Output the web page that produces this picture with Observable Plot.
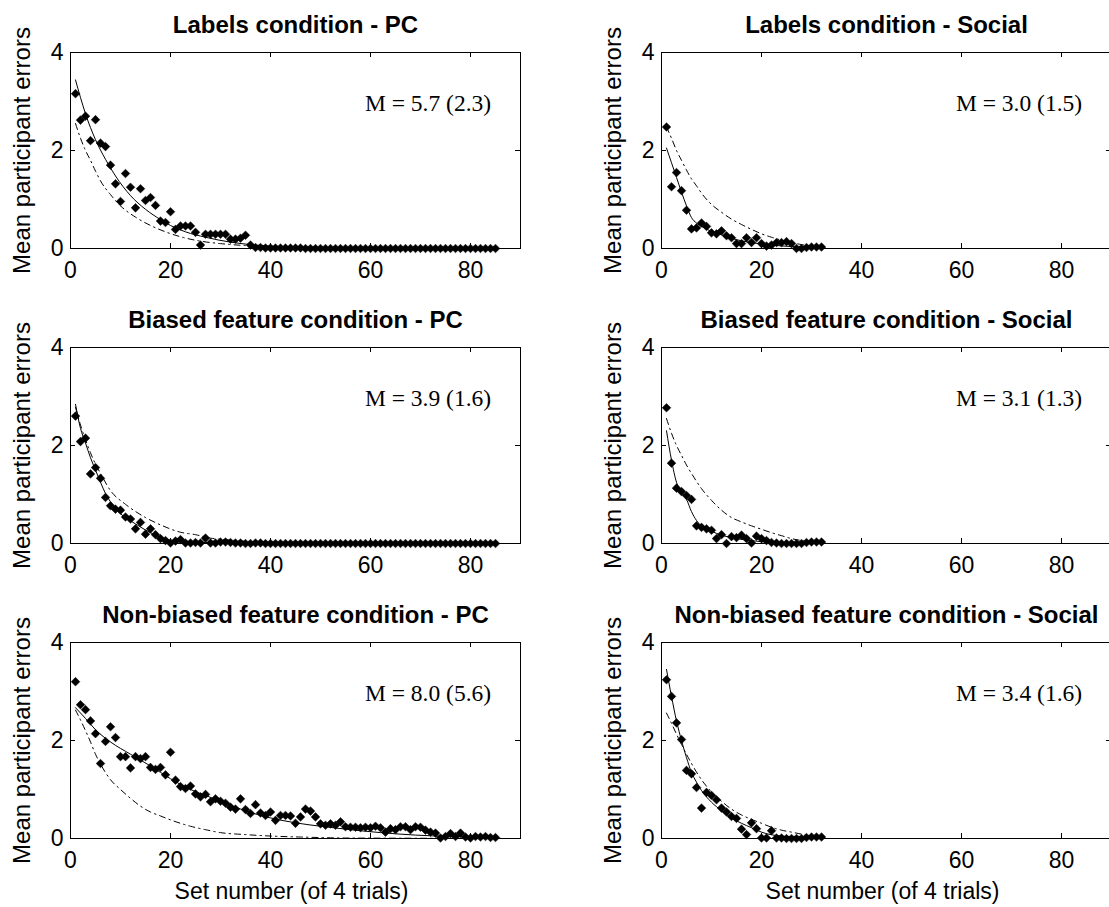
<!DOCTYPE html>
<html>
<head>
<meta charset="utf-8">
<script src="https://cdn.jsdelivr.net/npm/d3@7"></script>
<script src="https://cdn.jsdelivr.net/npm/@observablehq/plot@0.6"></script>
<style>
html, body { margin: 0; padding: 0; background: #fff; overflow: hidden; }
#chart { position: relative; width: 1109px; height: 907px; overflow: hidden; background: #fff; }
#chart > svg { position: absolute; }
</style>
</head>
<body>
<div id="chart"></div>
<script>
// ---------- text ----------
const titles = [
  "Labels condition - PC", "Labels condition - Social",
  "Biased feature condition - PC", "Biased feature condition - Social",
  "Non-biased feature condition - PC", "Non-biased feature condition - Social"
];
const meanLabels = [
  "M = 5.7 (2.3)", "M = 3.0 (1.5)",
  "M = 3.9 (1.6)", "M = 3.1 (1.3)",
  "M = 8.0 (5.6)", "M = 3.4 (1.6)"
];
const yLabel = "Mean participant errors";
const xLabel = "Set number (of 4 trials)";
const xTicks = [0, 20, 40, 60, 80];
const yTicks = [0, 2, 4];

// ---------- observed mean errors per set (set = index + 1) ----------
const labelsPC = [
  3.16, 2.62, 2.70, 2.20, 2.63, 2.15, 2.08, 1.70, 1.32, 0.96,
  1.53, 1.25, 0.83, 1.22, 0.98, 1.04, 0.88, 0.56, 0.53, 0.75,
  0.39, 0.46, 0.46, 0.46, 0.33, 0.07, 0.29, 0.29, 0.29, 0.29,
  0.29, 0.19, 0.19, 0.21, 0.27, 0.07, 0.02, 0.02, 0.01, 0.01,
  0.01, 0.01, 0.01, 0.01, 0.01, 0.01, 0, 0, 0, 0,
  0, 0, 0, 0, 0, 0, 0, 0, 0, 0,
  0, 0, 0, 0, 0, 0, 0, 0, 0, 0,
  0, 0, 0, 0, 0, 0, 0, 0, 0, 0,
  0, 0, 0, 0, 0
];
const labelsSocial = [
  2.48, 1.26, 1.55, 1.18, 0.78, 0.40, 0.42, 0.52, 0.45, 0.32,
  0.30, 0.36, 0.26, 0.22, 0.10, 0.10, 0.22, 0.12, 0.22, 0.10,
  0.05, 0.07, 0.12, 0.12, 0.14, 0.10, 0.00, 0.00, 0.02, 0.03,
  0.03, 0.03
];
const biasedPC = [
  2.60, 2.08, 2.15, 1.42, 1.55, 1.33, 0.94, 0.77, 0.70, 0.68,
  0.54, 0.50, 0.30, 0.43, 0.19, 0.30, 0.18, 0.10, 0.06, 0.01,
  0.05, 0.08, 0.01, 0.01, 0.02, 0.01, 0.11, 0.01, 0.01, 0.03,
  0.03, 0.02, 0.01, 0.01, 0, 0, 0.01, 0.01, 0, 0,
  0, 0, 0, 0, 0, 0, 0, 0, 0, 0,
  0, 0, 0, 0, 0, 0, 0, 0, 0, 0,
  0, 0, 0, 0, 0, 0, 0, 0, 0, 0,
  0, 0, 0, 0, 0, 0, 0, 0, 0, 0,
  0, 0, 0, 0, 0
];
const biasedSocial = [
  2.77, 1.64, 1.13, 1.06, 0.98, 0.90, 0.36, 0.33, 0.30, 0.27,
  0.10, 0.18, 0.00, 0.14, 0.12, 0.17, 0.10, 0.01, 0.15, 0.10,
  0.06, 0.02, 0.01, 0.00, 0.00, 0.00, 0.00, 0.00, 0.02, 0.03,
  0.03, 0.03
];
const nonBiasedPC = [
  3.20, 2.73, 2.63, 2.40, 2.14, 1.53, 1.98, 2.28, 2.06, 1.67,
  1.67, 1.44, 1.67, 1.63, 1.67, 1.45, 1.41, 1.45, 1.30, 1.76,
  1.19, 1.06, 1.02, 1.07, 0.91, 0.85, 0.90, 0.75, 0.81, 0.76,
  0.72, 0.64, 0.60, 0.81, 0.59, 0.51, 0.69, 0.52, 0.47, 0.54,
  0.37, 0.47, 0.47, 0.46, 0.31, 0.44, 0.60, 0.56, 0.44, 0.30,
  0.27, 0.30, 0.27, 0.34, 0.24, 0.23, 0.23, 0.22, 0.23, 0.22,
  0.25, 0.22, 0.13, 0.20, 0.18, 0.24, 0.24, 0.18, 0.24, 0.23,
  0.17, 0.13, 0.11, 0.01, 0.04, 0.10, 0.04, 0.11, 0.03, 0.01,
  0.04, 0.03, 0.04, 0.02, 0.02
];
const nonBiasedSocial = [
  3.24, 2.90, 2.36, 2.02, 1.39, 1.32, 1.04, 0.62, 0.94, 0.88,
  0.79, 0.62, 0.54, 0.45, 0.41, 0.19, 0.08, 0.32, 0.20, 0.01,
  0.01, 0.16, 0.01, 0.01, 0.00, 0.00, 0.00, 0.00, 0.02, 0.03,
  0.03, 0.03
];

// ---------- model curves (solid) read at sample sets ----------
const solidLabelsPC_x = [1, 2, 3, 5, 7, 9, 12, 15, 18, 20, 23, 27, 32, 37, 45, 60, 85];
const solidLabelsPC_y = [3.44, 3.08, 2.75, 2.22, 1.82, 1.48, 1.08, 0.80, 0.59, 0.47, 0.34, 0.23, 0.13, 0.07, 0.03, 0.01, 0];
const solidLabelsSoc_x = [1, 2, 3, 4, 5, 6, 7, 8, 10, 12, 15, 18, 22, 26, 32];
const solidLabelsSoc_y = [2.05, 1.75, 1.45, 1.15, 0.87, 0.63, 0.52, 0.45, 0.35, 0.28, 0.18, 0.12, 0.07, 0.04, 0.02];
const solidBiasedPC_x = [1, 2, 3, 4, 5, 6, 7, 8, 10, 13, 16, 19, 22, 27, 35, 50, 85];
const solidBiasedPC_y = [2.84, 2.35, 2.05, 1.75, 1.50, 1.25, 1.02, 0.85, 0.61, 0.40, 0.22, 0.09, 0.04, 0.02, 0.01, 0, 0];
const solidBiasedSoc_x = [1, 2, 3, 4, 5, 6, 7, 8, 10, 12, 15, 18, 22, 27, 32];
const solidBiasedSoc_y = [2.30, 1.70, 1.25, 1.05, 0.90, 0.65, 0.47, 0.36, 0.25, 0.17, 0.10, 0.06, 0.02, 0.01, 0];
const solidNonBiasedPC_x = [1, 3, 5, 8, 12, 16, 20, 24, 28, 32, 36, 40, 45, 50, 56, 62, 69, 76, 85];
const solidNonBiasedPC_y = [2.67, 2.45, 2.22, 1.97, 1.72, 1.48, 1.22, 1.00, 0.84, 0.68, 0.53, 0.42, 0.32, 0.25, 0.18, 0.12, 0.07, 0.04, 0.02];
const solidNonBiasedSoc_x = [1, 2, 3, 4, 5, 6, 7, 8, 10, 12, 14, 16, 18, 20, 23, 27, 32];
const solidNonBiasedSoc_y = [3.45, 2.90, 2.40, 2.00, 1.65, 1.35, 1.15, 0.98, 0.74, 0.57, 0.42, 0.31, 0.22, 0.13, 0.06, 0.03, 0.01];

// ---------- model curves (dash-dot) read at sample sets ----------
const dashLabelsPC_x = [1, 2, 3, 4, 5, 6, 8, 10, 13, 16, 19, 22, 26, 30, 35, 40, 50, 65, 85];
const dashLabelsPC_y = [2.55, 2.25, 2.00, 1.80, 1.58, 1.38, 1.10, 0.87, 0.64, 0.47, 0.34, 0.24, 0.15, 0.10, 0.06, 0.04, 0.02, 0.01, 0];
const dashLabelsSoc_x = [1, 2, 3, 4, 5, 6, 7, 8, 10, 12, 14, 16, 18, 20, 22, 24, 26, 28, 30, 32];
const dashLabelsSoc_y = [2.48, 2.25, 2.00, 1.80, 1.60, 1.42, 1.28, 1.13, 0.90, 0.74, 0.60, 0.49, 0.39, 0.30, 0.23, 0.17, 0.12, 0.08, 0.05, 0.03];
const dashBiasedPC_x = [1, 2, 3, 4, 5, 6, 8, 11, 15, 18, 22, 25, 28, 32, 36, 45, 60, 85];
const dashBiasedPC_y = [2.78, 2.42, 2.12, 1.85, 1.62, 1.43, 1.08, 0.80, 0.53, 0.38, 0.23, 0.18, 0.11, 0.07, 0.04, 0.02, 0.01, 0];
const dashBiasedSoc_x = [1, 2, 3, 4, 5, 6, 8, 10, 12, 14, 16, 18, 20, 22, 24, 26, 28, 30, 32];
const dashBiasedSoc_y = [2.55, 2.25, 2.00, 1.80, 1.60, 1.43, 1.12, 0.88, 0.68, 0.53, 0.44, 0.36, 0.29, 0.22, 0.16, 0.10, 0.06, 0.03, 0.02];
const dashNonBiasedPC_x = [1, 2, 3, 4, 5, 6, 8, 10, 12, 14, 16, 18, 20, 22, 24, 27, 30, 35, 40, 46, 55, 70, 85];
const dashNonBiasedPC_y = [2.62, 2.42, 2.20, 1.97, 1.72, 1.52, 1.20, 1.00, 0.82, 0.66, 0.54, 0.46, 0.38, 0.31, 0.25, 0.18, 0.12, 0.08, 0.05, 0.03, 0.01, 0.005, 0];
const dashNonBiasedSoc_x = [1, 2, 3, 4, 5, 6, 8, 10, 12, 14, 16, 18, 20, 22, 24, 26, 28, 30, 32];
const dashNonBiasedSoc_y = [2.56, 2.35, 2.13, 1.92, 1.72, 1.53, 1.20, 0.95, 0.76, 0.60, 0.48, 0.39, 0.31, 0.23, 0.17, 0.13, 0.09, 0.06, 0.05];

// ---------- assemble panels ----------
const zipXY = (xs, ys) => xs.map((x, i) => ({x, y: ys[i]}));
const panels = [
  {obs: labelsPC, solid: zipXY(solidLabelsPC_x, solidLabelsPC_y), dash: zipXY(dashLabelsPC_x, dashLabelsPC_y)},
  {obs: labelsSocial, solid: zipXY(solidLabelsSoc_x, solidLabelsSoc_y), dash: zipXY(dashLabelsSoc_x, dashLabelsSoc_y)},
  {obs: biasedPC, solid: zipXY(solidBiasedPC_x, solidBiasedPC_y), dash: zipXY(dashBiasedPC_x, dashBiasedPC_y)},
  {obs: biasedSocial, solid: zipXY(solidBiasedSoc_x, solidBiasedSoc_y), dash: zipXY(dashBiasedSoc_x, dashBiasedSoc_y)},
  {obs: nonBiasedPC, solid: zipXY(solidNonBiasedPC_x, solidNonBiasedPC_y), dash: zipXY(dashNonBiasedPC_x, dashNonBiasedPC_y)},
  {obs: nonBiasedSocial, solid: zipXY(solidNonBiasedSoc_x, solidNonBiasedSoc_y), dash: zipXY(dashNonBiasedSoc_x, dashNonBiasedSoc_y)}
];

// ---------- layout ----------
const FW = 450, FH = 196;
const cols = [
  {left: 0, width: 540, marginLeft: 70},
  {left: 560, width: 560, marginLeft: 101}
];
const rows = [
  {top: 0, height: 296, marginTop: 52},
  {top: 296, height: 294, marginTop: 51},
  {top: 590, height: 317, marginTop: 52}
];
const SANS = "'Liberation Sans', Arial, Helvetica, sans-serif";
const SERIF = "'Liberation Serif', 'Times New Roman', Times, serif";

const chart = document.getElementById("chart");
panels.forEach((p, k) => {
  const c = cols[k % 2], r = rows[Math.floor(k / 2)];
  const isBottom = Math.floor(k / 2) === 2;
  const marks = [
    Plot.frame({stroke: "black", strokeWidth: 1}),
    Plot.tickX(xTicks, {x: d => d, insetTop: FH - 5, stroke: "black"}),
    Plot.tickX(xTicks, {x: d => d, insetBottom: FH - 5, stroke: "black"}),
    Plot.tickY(yTicks, {y: d => d, insetLeft: FW - 5, stroke: "black"}),
    Plot.tickY(yTicks, {y: d => d, insetRight: FW - 5, stroke: "black"}),
    Plot.axisX({ticks: xTicks, tickSize: 0, tickPadding: 13, label: null, fontSize: 23, tickFormat: d => String(d)}),
    Plot.axisY({ticks: yTicks, tickSize: 0, tickPadding: 7, label: null, fontSize: 23, tickFormat: d => String(d)}),
    Plot.line(p.dash, {x: "x", y: "y", stroke: "black", strokeWidth: 1, strokeDasharray: "6,4,1.5,4", curve: "monotone-x"}),
    Plot.line(p.solid, {x: "x", y: "y", stroke: "black", strokeWidth: 1, curve: "monotone-x"}),
    Plot.dot(p.obs, {x: (d, i) => i + 1, y: d => d, symbol: "diamond2", r: 3.9, fill: "black", stroke: "black", strokeWidth: 0.5}),
    Plot.text([meanLabels[k]], {x: () => 71.5, y: () => 2.95, text: d => d, fontFamily: SERIF, fontSize: 23.5, lineAnchor: "middle", textAnchor: "middle", fill: "black"}),
    Plot.text([titles[k]], {frameAnchor: "top", dy: -20, lineAnchor: "bottom", textAnchor: "middle", text: d => d, fontWeight: "bold", fontSize: 24, fill: "black", style: "letter-spacing:0.4px"}),
    Plot.text([yLabel], {frameAnchor: "left", dx: -41, rotate: -90, lineAnchor: "bottom", textAnchor: "middle", text: d => d, fontSize: 24, fill: "black"})
  ];
  if (isBottom) {
    marks.push(Plot.text([xLabel], {frameAnchor: "bottom", dx: -4, dy: 60, lineAnchor: "bottom", textAnchor: "middle", text: d => d, fontSize: 23, fill: "black"}));
  }
  const svg = Plot.plot({
    width: c.width,
    height: r.height,
    marginLeft: c.marginLeft,
    marginRight: c.width - c.marginLeft - FW,
    marginTop: r.marginTop,
    marginBottom: r.height - r.marginTop - FH,
    x: {domain: [0, 90], axis: null},
    y: {domain: [0, 4], axis: null},
    style: {fontFamily: SANS, fontSize: "23px", color: "black", background: "transparent", overflow: "visible"},
    marks
  });
  svg.style.left = c.left + "px";
  svg.style.top = r.top + "px";
  svg.style.maxWidth = "none";
  chart.appendChild(svg);
});
</script>
</body>
</html>
